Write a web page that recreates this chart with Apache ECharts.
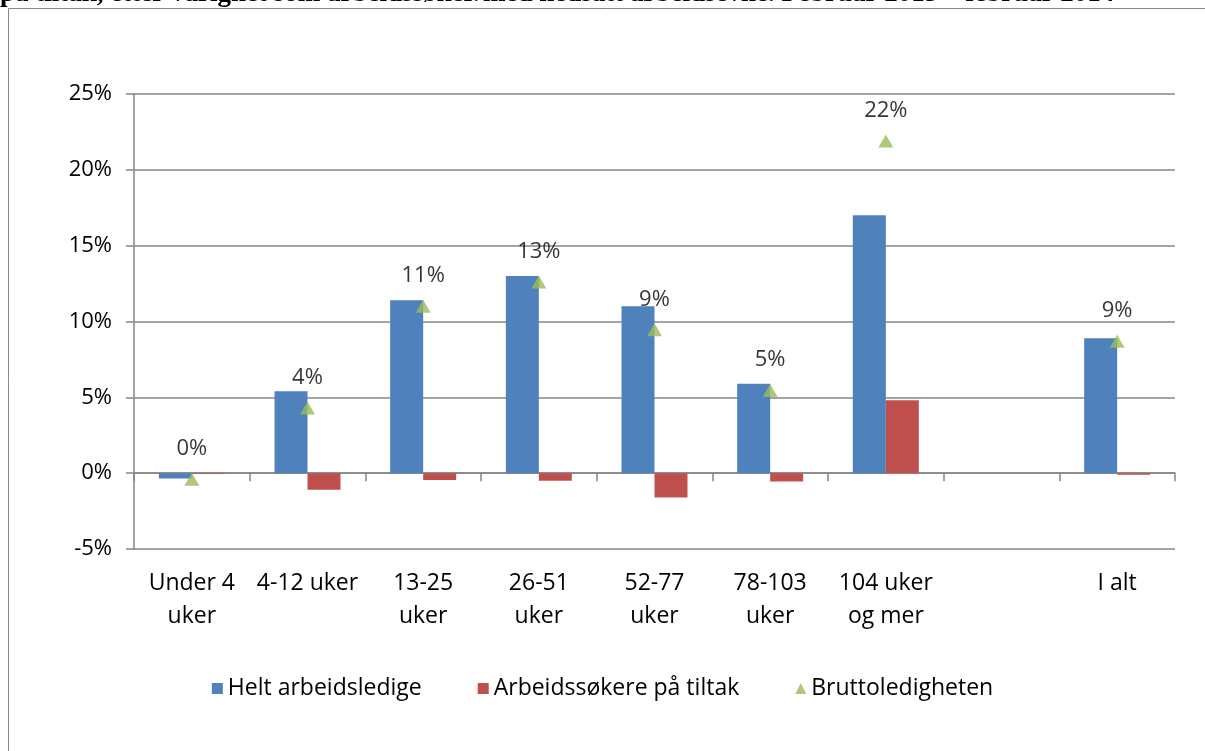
<!DOCTYPE html>
<html>
<head>
<meta charset="utf-8">
<script src="https://cdn.jsdelivr.net/npm/echarts@6/dist/echarts.min.js"></script>
<style>
  html, body { margin: 0; padding: 0; background: #fff; }
  #chart { width: 1205px; height: 751px; }
</style>
</head>
<body>
<div id="chart"></div>
<script>
// ==================== 数据 ====================
const categories = ['Under 4\nuker', '4-12 uker', '13-25\nuker', '26-51\nuker', '52-77\nuker', '78-103\nuker', '104 uker\nog mer', '', 'I alt']
const heltLedige = [-0.35, 5.4, 11.4, 13.0, 11.0, 5.9, 17.0, null, 8.9]
const paTiltak = [-0.05, -1.1, -0.45, -0.5, -1.6, -0.55, 4.8, null, -0.1]
const brutto = [-0.4, 4.3, 11.0, 12.6, 9.45, 5.45, 21.9, null, 8.7]
const yTicks = { min: -5, max: 25, interval: 5 }

const colors = { blue: '#4F81BD', red: '#C0504D', green: '#9BBB59', grid: '#868686', text: '#000' }
const font = 'Open Sans'

const chart = echarts.init(document.getElementById('chart'))

chart.setOption({
  backgroundColor: '#fff',
  animation: false,
  textStyle: { fontFamily: font, color: colors.text },
  graphic: [
    {
      type: 'text', x: 0, y: -19,
      style: {
        text: 'på tiltak, etter varighet som arbeidssøker/med nedsatt arbeidsevne. Februar 2013 – februar 2014',
        font: 'bold 27px "Liberation Serif"', fill: '#000', verticalAlign: 'top'
      }
    },
    {
      type: 'rect', shape: { x: 8.5, y: 8.5, width: 1300, height: 800 },
      style: { fill: 'none', stroke: colors.grid, lineWidth: 1 }
    }
  ],
  grid: { left: 134, right: 30, top: 94, bottom: 202 },
  legend: {
    bottom: 46, left: 'center',
    itemWidth: 11, itemHeight: 11, itemGap: 56,
    textStyle: { fontFamily: font, fontSize: 23, color: colors.text },
    data: [
      { name: 'Helt arbeidsledige', icon: 'rect' },
      { name: 'Arbeidssøkere på tiltak', icon: 'rect' },
      { name: 'Bruttoledigheten', icon: 'triangle' }
    ]
  },
  xAxis: [
    {
      type: 'category', data: categories,
      axisLine: { onZero: true, lineStyle: { color: colors.grid, width: 1.5 } },
      axisTick: { show: true, length: 8, lineStyle: { color: colors.grid, width: 1.5 } },
      axisLabel: { show: false }
    },
    {
      type: 'category', data: categories, position: 'bottom',
      axisLine: { show: false, onZero: false },
      axisTick: { show: false },
      axisLabel: { fontFamily: font, fontSize: 23, color: colors.text, lineHeight: 33, margin: 18, interval: 0 }
    }
  ],
  yAxis: {
    type: 'value', min: yTicks.min, max: yTicks.max, interval: yTicks.interval,
    axisLine: { show: true, lineStyle: { color: colors.grid, width: 1.5 } },
    axisTick: { show: true, length: 8, lineStyle: { color: colors.grid, width: 1.5 } },
    splitLine: { lineStyle: { color: colors.grid, width: 1.5 } },
    axisLabel: { fontFamily: font, fontSize: 22, color: colors.text, margin: 22, formatter: (v) => `${v}%` }
  },
  series: [
    {
      name: 'Helt arbeidsledige', type: 'bar', xAxisIndex: 0, data: heltLedige,
      barWidth: 33, barGap: '0%', itemStyle: { color: colors.blue }
    },
    {
      name: 'Arbeidssøkere på tiltak', type: 'bar', xAxisIndex: 0, data: paTiltak,
      barWidth: 33, barGap: '0%', itemStyle: { color: colors.red }
    },
    {
      name: 'Bruttoledigheten', type: 'scatter', xAxisIndex: 0, data: brutto,
      symbol: 'triangle', symbolSize: [15, 13], itemStyle: { color: colors.green },
      label: {
        show: true, position: 'top', distance: 13,
        fontFamily: font, fontSize: 22, color: colors.text,
        formatter: (p) => `${Math.round(p.value)}%`
      }
    }
  ]
})
</script>
</body>
</html>
